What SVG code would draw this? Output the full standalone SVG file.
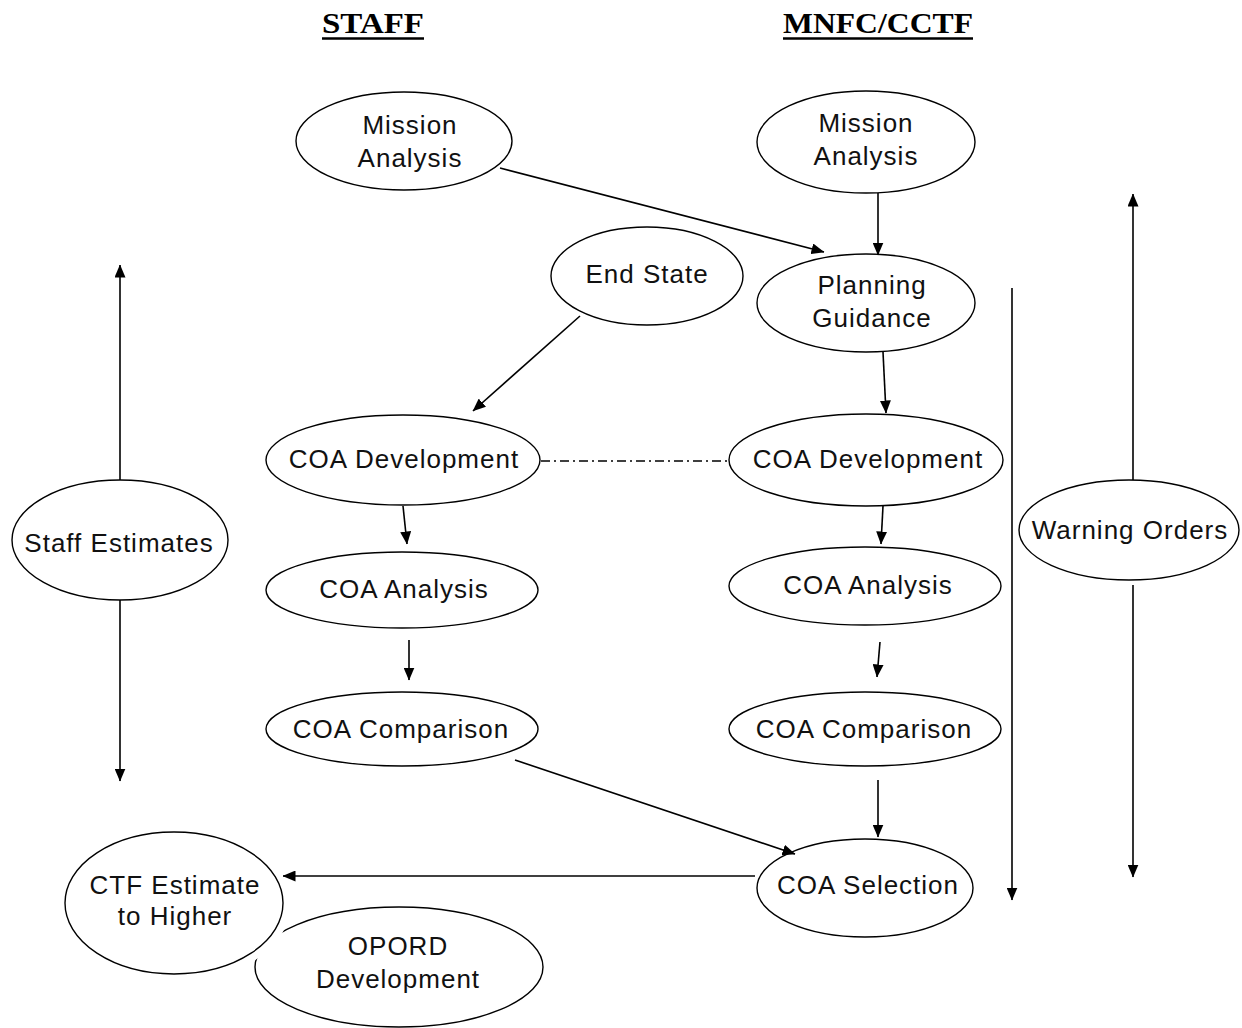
<svg xmlns="http://www.w3.org/2000/svg" width="1242" height="1028" viewBox="0 0 1242 1028">
<defs>
<style>
.n{fill:#fff;stroke:#000;stroke-width:1.4}
.t{font-family:"Liberation Sans",Arial,sans-serif;font-size:26px;letter-spacing:1px;text-anchor:middle;fill:#111}
.h{font-family:"Liberation Serif","Times New Roman",serif;font-size:30px;font-weight:bold;fill:#000}
.c{stroke:#000;stroke-width:1.6;fill:none}
</style>
<marker id="ah" markerWidth="13" markerHeight="11" refX="12.5" refY="5.5" orient="auto" markerUnits="userSpaceOnUse">
<path d="M0,0 L13,5.5 L0,11 z" fill="#000"/>
</marker>
</defs>
<rect width="1242" height="1028" fill="#fff"/>
<g id="headers">
<text class="h" x="322" y="33" textLength="102" lengthAdjust="spacingAndGlyphs">STAFF</text>
<line x1="322" y1="38.5" x2="424" y2="38.5" stroke="#000" stroke-width="2.5"/>
<text class="h" x="783" y="33" textLength="190" lengthAdjust="spacingAndGlyphs">MNFC/CCTF</text>
<line x1="783" y1="38.5" x2="973" y2="38.5" stroke="#000" stroke-width="2.5"/>
</g>
<g id="mission-analysis-staff">
<ellipse class="n" cx="404" cy="141" rx="108" ry="49"/>
<text class="t" x="410" y="134">Mission</text>
<text class="t" x="410" y="167">Analysis</text>
</g>
<g id="mission-analysis-mnfc">
<ellipse class="n" cx="866" cy="142" rx="109" ry="51"/>
<text class="t" x="866" y="132">Mission</text>
<text class="t" x="866" y="165">Analysis</text>
</g>
<g id="end-state">
<ellipse class="n" cx="647" cy="276" rx="96" ry="49"/>
<text class="t" x="647" y="283">End State</text>
</g>
<g id="planning-guidance">
<ellipse class="n" cx="866" cy="303" rx="109" ry="49"/>
<text class="t" x="872" y="294">Planning</text>
<text class="t" x="872" y="327">Guidance</text>
</g>
<g id="coa-dev-staff">
<ellipse class="n" cx="403" cy="460" rx="137" ry="45"/>
<text class="t" x="404" y="468">COA Development</text>
</g>
<g id="coa-dev-mnfc">
<ellipse class="n" cx="866" cy="460" rx="137" ry="46"/>
<text class="t" x="868" y="468">COA Development</text>
</g>
<g id="coa-analysis-staff">
<ellipse class="n" cx="402" cy="590" rx="136" ry="38"/>
<text class="t" x="404" y="598">COA Analysis</text>
</g>
<g id="coa-analysis-mnfc">
<ellipse class="n" cx="865" cy="586" rx="136" ry="39"/>
<text class="t" x="868" y="594">COA Analysis</text>
</g>
<g id="coa-comparison-staff">
<ellipse class="n" cx="402" cy="729" rx="136" ry="37"/>
<text class="t" x="401" y="738">COA Comparison</text>
</g>
<g id="coa-comparison-mnfc">
<ellipse class="n" cx="865" cy="729" rx="136" ry="37"/>
<text class="t" x="864" y="738">COA Comparison</text>
</g>
<g id="coa-selection">
<ellipse class="n" cx="865" cy="888" rx="108" ry="49"/>
<text class="t" x="868" y="894">COA Selection</text>
</g>
<g id="opord-development">
<ellipse class="n" cx="399" cy="967" rx="144" ry="60"/>
<text class="t" x="398" y="955">OPORD</text>
<text class="t" x="398" y="988">Development</text>
</g>
<g id="ctf-estimate">
<ellipse cx="174" cy="903" rx="109" ry="71" fill="#fff" stroke="#fff" stroke-width="16"/>
<ellipse class="n" cx="174" cy="903" rx="109" ry="71"/>
<text class="t" x="175" y="894">CTF Estimate</text>
<text class="t" x="175" y="925">to Higher</text>
</g>
<g id="staff-estimates">
<ellipse class="n" cx="120" cy="540" rx="108" ry="60"/>
<text class="t" x="119" y="552">Staff Estimates</text>
</g>
<g id="warning-orders">
<ellipse class="n" cx="1129" cy="530" rx="110" ry="50"/>
<text class="t" x="1130" y="539">Warning Orders</text>
</g>
<g id="connectors">
<line class="c" x1="500" y1="168" x2="824" y2="252" marker-end="url(#ah)"/>
<line class="c" x1="878" y1="193" x2="878" y2="255" marker-end="url(#ah)"/>
<line class="c" x1="580" y1="316" x2="473" y2="411" marker-end="url(#ah)"/>
<line class="c" x1="883" y1="352" x2="886" y2="413" marker-end="url(#ah)"/>
<line class="c" x1="541" y1="461" x2="729" y2="461" stroke-dasharray="9,4,2,4" stroke-width="1.4"/>
<line class="c" x1="403" y1="506" x2="407" y2="544" marker-end="url(#ah)"/>
<line class="c" x1="883" y1="506" x2="881" y2="544" marker-end="url(#ah)"/>
<line class="c" x1="409" y1="640" x2="409" y2="680" marker-end="url(#ah)"/>
<line class="c" x1="880" y1="642" x2="877" y2="677" marker-end="url(#ah)"/>
<line class="c" x1="515" y1="760" x2="795" y2="854" marker-end="url(#ah)"/>
<line class="c" x1="878" y1="780" x2="878" y2="837" marker-end="url(#ah)"/>
<line class="c" x1="755" y1="876" x2="283" y2="876" marker-end="url(#ah)"/>
<line class="c" x1="120" y1="480" x2="120" y2="265" marker-end="url(#ah)"/>
<line class="c" x1="120" y1="600" x2="120" y2="781" marker-end="url(#ah)"/>
<line class="c" x1="1012" y1="288" x2="1012" y2="900" marker-end="url(#ah)"/>
<line class="c" x1="1133" y1="480" x2="1133" y2="194" marker-end="url(#ah)"/>
<line class="c" x1="1133" y1="585" x2="1133" y2="877" marker-end="url(#ah)"/>
</g>
</svg>
